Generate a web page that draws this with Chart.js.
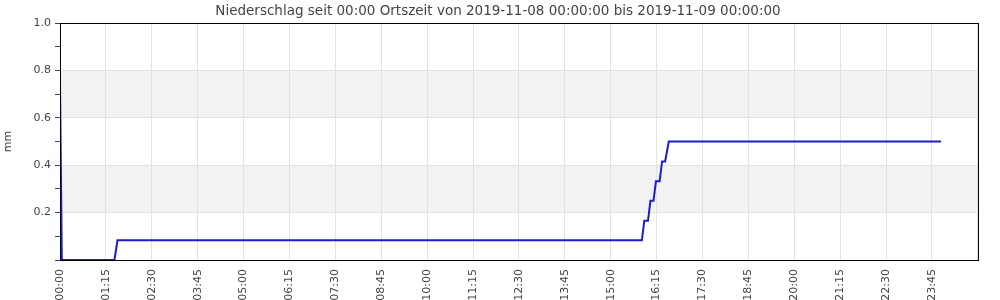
<!DOCTYPE html>
<html>
<head>
<meta charset="utf-8">
<script src="https://cdn.jsdelivr.net/npm/chart.js@4/dist/chart.umd.min.js"></script>
<style>
  html, body { margin: 0; padding: 0; background: #fff; }
  #rainChart { display: block; }
</style>
</head>
<body>
<canvas id="rainChart" width="1000" height="300"></canvas>
<script>
// Niederschlag 2019-11-08 (Minuten seit 00:00 Ortszeit, Werte in mm)
const rainMinutes = [0, 3, 89, 94, 951, 955, 961, 965, 970, 974, 980, 984, 989, 995, 1440];
const rainValues  = [0.75, 0, 0, 0.083, 0.083, 0.166, 0.166, 0.25, 0.25, 0.333, 0.333, 0.416, 0.416, 0.5, 0.5];

const chartTitle = 'Niederschlag seit 00:00 Ortszeit von 2019-11-08 00:00:00 bis 2019-11-09 00:00:00';
const yAxisTitle = 'mm';
const xMin = 0, xMax = 1500, xStep = 75, xLastLabel = 1425;
const yMin = 0, yMax = 1, yStep = 0.1;
// grey background stripes [from, to]
const bandRanges = [[0.2, 0.4], [0.6, 0.8]];

Chart.defaults.font.family = '"DejaVu Sans", sans-serif';
Chart.defaults.font.size = 11;
Chart.defaults.color = '#444';

function fmtTime(m) {
    const h = Math.floor(m / 60), mm = m % 60;
    return String(h).padStart(2, '0') + ':' + String(mm).padStart(2, '0');
}

// stripes behind the grid + black frame around the plot
const plotDecor = {
    id: 'plotDecor',
    beforeDraw(chart) {
        const { ctx, chartArea, scales } = chart;
        ctx.save();
        ctx.fillStyle = '#f2f2f2';
        bandRanges.forEach(([a, b]) => {
            const y1 = scales.y.getPixelForValue(b);
            const y2 = scales.y.getPixelForValue(a);
            ctx.fillRect(chartArea.left, y1, chartArea.right - chartArea.left, y2 - y1);
        });
        ctx.restore();
    },
    afterDraw(chart) {
        const { ctx, chartArea } = chart;
        ctx.save();
        ctx.strokeStyle = '#000';
        ctx.lineWidth = 1;
        ctx.strokeRect(Math.round(chartArea.left) + 0.5, Math.round(chartArea.top) + 0.5,
            Math.round(chartArea.right - chartArea.left), Math.round(chartArea.bottom - chartArea.top));
        ctx.restore();
    }
};

new Chart(document.getElementById('rainChart'), {
    type: 'line',
    data: {
        datasets: [{
            label: 'Niederschlag',
            data: rainMinutes.map((m, i) => ({ x: m, y: rainValues[i] })),
            borderColor: '#1c1cc8',
            borderWidth: 2,
            pointRadius: 0,
            fill: false,
            tension: 0
        }]
    },
    options: {
        responsive: false,
        animation: false,
        devicePixelRatio: 1,
        layout: { padding: { top: 0, right: 4, bottom: 0, left: 0 } },
        plugins: {
            legend: { display: false },
            tooltip: { enabled: false },
            title: {
                display: true,
                text: chartTitle,
                color: '#444',
                font: { size: 13.5, weight: 'normal' },
                padding: { top: 3, bottom: 4 }
            }
        },
        scales: {
            x: {
                type: 'linear',
                min: xMin,
                max: xMax,
                afterFit: s => { s.height = 40; },
                border: { display: false },
                grid: { color: '#e2e2e2', drawTicks: false },
                ticks: {
                    stepSize: xStep,
                    autoSkip: false,
                    maxRotation: 90,
                    minRotation: 90,
                    padding: 9,
                    callback: v => (v <= xLastLabel ? fmtTime(v) : '')
                }
            },
            y: {
                min: yMin,
                max: yMax,
                afterFit: s => { s.width = 60; },
                border: { display: false },
                title: { display: true, text: yAxisTitle, padding: { top: 2, bottom: 0 } },
                grid: {
                    color: c => (Math.round(c.tick.value * 10) % 2 ? 'rgba(0,0,0,0)' : '#e2e2e2'),
                    tickColor: '#444',
                    tickLength: 5
                },
                ticks: {
                    stepSize: yStep,
                    padding: 4,
                    callback: v => {
                        const k = Math.round(v * 10);
                        return (k === 0 || k % 2) ? '' : (k / 10).toFixed(1);
                    }
                }
            },
            // empty right-hand strip so the plot ends at x=980 while the title centres on the page
            yRight: {
                position: 'right',
                min: yMin,
                max: yMax,
                afterFit: s => { s.width = 16; },
                border: { display: false },
                grid: { display: false },
                ticks: { display: false }
            }
        }
    },
    plugins: [plotDecor]
});
</script>
</body>
</html>
